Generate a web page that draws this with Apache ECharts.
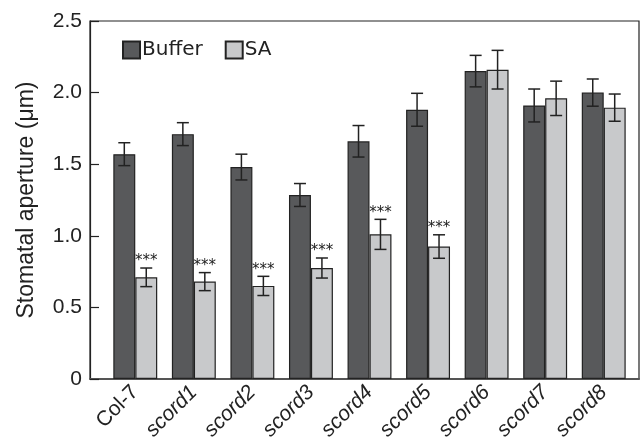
<!DOCTYPE html>
<html>
<head>
<meta charset="utf-8">
<script src="https://cdn.jsdelivr.net/npm/echarts@6/dist/echarts.min.js"></script>
<style>
  html, body { margin: 0; padding: 0; background: #ffffff; }
  #chart { width: 640px; height: 438px; }
</style>
</head>
<body>
<div id="chart"></div>
<script>
// Genotypes on the x axis
const categories = ['Col-7', 'scord1', 'scord2', 'scord3', 'scord4', 'scord5', 'scord6', 'scord7', 'scord8'];

// Mean stomatal aperture (µm) and error (±) per genotype
const bufferMean = [1.57, 1.71, 1.48, 1.285, 1.66, 1.88, 2.15, 1.91, 2.00];
const bufferErr  = [0.08, 0.08, 0.09, 0.08, 0.11, 0.115, 0.11, 0.115, 0.095];
const saMean     = [0.71, 0.68, 0.65, 0.775, 1.01, 0.925, 2.16, 1.96, 1.895];
const saErr      = [0.065, 0.063, 0.067, 0.07, 0.105, 0.082, 0.135, 0.12, 0.095];

// Significance marks above the SA bars
const saMarks = ['***', '***', '***', '***', '***', '***', '', '', ''];

// Y axis ticks
const yTicks      = [0, 0.5, 1.0, 1.5, 2.0, 2.5];
const yTickLabels = ['0', '0.5', '1.0', '1.5', '2.0', '2.5'];

const seriesNames = ['Buffer', 'SA'];
const colors = { Buffer: '#58595b', SA: '#c8c9cb' };
const ink = '#222222';
const CAT_GAP = 0.25; // fraction of band left empty between groups

// Error bars (and optional marks) drawn on the bar axes
function errorBars(means, errs, side, marks) {
  return {
    type: 'custom',
    xAxisIndex: 1,
    yAxisIndex: 1,
    z: 5,
    silent: true,
    data: means.map((m, i) => [i, m, errs[i]]),
    renderItem(params, api) {
      const i = api.value(0), m = api.value(1), e = api.value(2);
      const band = api.size([1, 0])[0];
      const off = side * band * (1 - CAT_GAP) / 4;
      const hi = api.coord([i, m + e]);
      const lo = api.coord([i, m - e]);
      const x = hi[0] + off;
      const cap = 6;
      const lineStyle = { stroke: ink, lineWidth: 1.5 };
      const children = [
        { type: 'line', shape: { x1: x, y1: hi[1], x2: x, y2: lo[1] }, style: lineStyle },
        { type: 'line', shape: { x1: x - cap, y1: hi[1], x2: x + cap, y2: hi[1] }, style: lineStyle },
        { type: 'line', shape: { x1: x - cap, y1: lo[1], x2: x + cap, y2: lo[1] }, style: lineStyle }
      ];
      const mark = marks ? marks[params.dataIndex] : '';
      if (mark) {
        children.push({
          type: 'text',
          style: {
            text: mark, x: x, y: hi[1] + 1,
            align: 'center', verticalAlign: 'bottom',
            font: '15px "DejaVu Sans"', fill: ink
          }
        });
      }
      return { type: 'group', children };
    }
  };
}

const chart = echarts.init(document.getElementById('chart'), null, { renderer: 'canvas' });

chart.setOption({
  animation: false,
  backgroundColor: '#ffffff',
  legend: {
    data: seriesNames,
    left: 122,
    top: 40,
    padding: 0,
    itemWidth: 17,
    itemHeight: 17,
    itemGap: 22,
    icon: 'rect',
    textStyle: { fontFamily: 'DejaVu Sans', fontSize: 20, color: ink, padding: [0, 0, 0, -3] }
  },
  grid: [
    // frame with the value axis
    { left: 90, right: 1, top: 21, bottom: 59, show: true, borderColor: ink, borderWidth: 1.2,
      containLabel: false, outerBoundsMode: 'none' },
    // bar area
    { left: 106, right: 7, top: 21, bottom: 59, containLabel: false, outerBoundsMode: 'none' }
  ],
  xAxis: [
    {
      gridIndex: 0, type: 'value', min: 0, max: 1,
      axisLine: { show: true, lineStyle: { color: '#555', width: 2 } },
      axisTick: { show: false }, axisLabel: { show: false }, splitLine: { show: false }
    },
    {
      gridIndex: 1, type: 'category', data: categories,
      axisLine: { show: false }, axisTick: { show: false }, splitLine: { show: false },
      axisLabel: {
        rotate: 45, margin: 10, interval: 0,
        fontFamily: 'Liberation Sans', fontSize: 21, color: ink,
        formatter: v => v.startsWith('scord') ? '{it|' + v + '}' : v,
        rich: { it: { fontStyle: 'italic', fontFamily: 'Liberation Sans', fontSize: 21, color: ink } }
      }
    }
  ],
  yAxis: [
    {
      gridIndex: 0, type: 'value',
      min: yTicks[0], max: yTicks[yTicks.length - 1], interval: 0.5,
      name: 'Stomatal aperture (μm)',
      nameLocation: 'middle', nameGap: 52,
      nameTextStyle: { fontFamily: 'Liberation Sans', fontSize: 23, color: ink },
      axisLine: { show: true, lineStyle: { color: ink, width: 1.2 } },
      axisTick: { show: true, inside: true, length: 9, lineStyle: { color: ink, width: 1.2 } },
      axisLabel: {
        margin: 8, fontFamily: 'Liberation Sans', fontSize: 21, color: ink,
        formatter: v => yTickLabels[yTicks.indexOf(v)]
      },
      splitLine: { show: false }
    },
    {
      gridIndex: 1, type: 'value',
      min: yTicks[0], max: yTicks[yTicks.length - 1],
      show: false
    }
  ],
  series: [
    {
      name: 'Buffer', type: 'bar', xAxisIndex: 1, yAxisIndex: 1,
      data: bufferMean,
      barGap: '0%', barCategoryGap: (CAT_GAP * 100) + '%',
      itemStyle: { color: colors.Buffer, borderColor: ink, borderWidth: 1.2 }
    },
    {
      name: 'SA', type: 'bar', xAxisIndex: 1, yAxisIndex: 1,
      data: saMean,
      barGap: '0%', barCategoryGap: (CAT_GAP * 100) + '%',
      itemStyle: { color: colors.SA, borderColor: ink, borderWidth: 1.2 }
    },
    errorBars(bufferMean, bufferErr, -1, null),
    errorBars(saMean, saErr, 1, saMarks)
  ]
});
</script>
</body>
</html>
